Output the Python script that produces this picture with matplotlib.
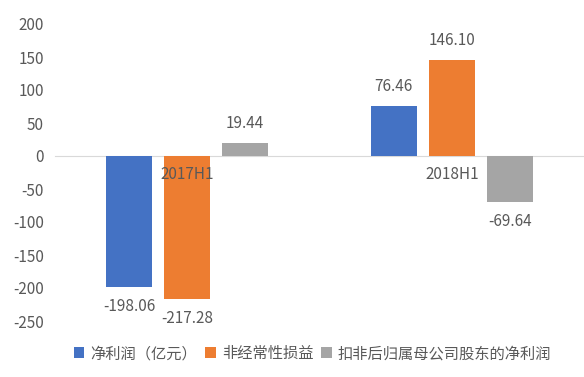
import matplotlib
matplotlib.use("Agg")
import matplotlib.pyplot as plt
import numpy as np

plt.rcParams['font.family'] = ['Noto Sans CJK SC', 'DejaVu Sans']

categories = ['2017H1', '2018H1']
series_names = ['净利润（亿元）', '非经常性损益', '扣非后归属母公司股东的净利润']
net_profit = [-198.06, 76.46]
non_recurring = [-217.28, 146.10]
deducted_profit = [19.44, -69.64]
colors = ['#4472C4', '#ED7D31', '#A5A5A5']
yticks = [-250, -200, -150, -100, -50, 0, 50, 100, 150, 200]

fig = plt.figure(figsize=(5.84, 3.77), dpi=100)
ax = fig.add_axes([55/584, 1-321/377, 529/584, 297/377])

x = np.arange(len(categories))
width = 0.174
step = 0.219
txt_color = '#595959'
fs = 11
for k, (vals, name, c) in enumerate(zip([net_profit, non_recurring, deducted_profit], series_names, colors)):
    bars = ax.bar(x + (k-1)*step, vals, width, color=c, label=name, zorder=2)
    for b, v in zip(bars, vals):
        ax.annotate(f'{v:.2f}', (b.get_x()+b.get_width()/2, v),
                    xytext=(0, 11 if v >= 0 else -11), textcoords='offset pixels',
                    ha='center', va='bottom' if v >= 0 else 'top', fontsize=fs, color=txt_color)

ax.set_xlim(-0.5, 1.5)
ax.set_ylim(-250, 200)
ax.set_yticks(yticks)
ax.set_yticklabels([str(t) for t in yticks], fontsize=fs, color=txt_color)
ax.tick_params(axis='y', length=0, pad=8)
for s in ['top', 'right', 'left']:
    ax.spines[s].set_visible(False)
ax.spines['bottom'].set_position(('data', 0))
ax.spines['bottom'].set_color('#D9D9D9')
ax.spines['bottom'].set_zorder(1)
ax.set_xticks(x)
ax.set_xticklabels(categories, fontsize=fs, color=txt_color)
ax.tick_params(axis='x', length=0, pad=7)
ax.xaxis.set_zorder(5)

fig.legend(loc='center', bbox_to_anchor=(0.535, 0.062), ncol=3, frameon=False,
           fontsize=fs, handlelength=0.7, handleheight=0.7, handletextpad=0.4,
           columnspacing=0.5, labelcolor=txt_color)

fig.savefig('out.png', dpi=100)
